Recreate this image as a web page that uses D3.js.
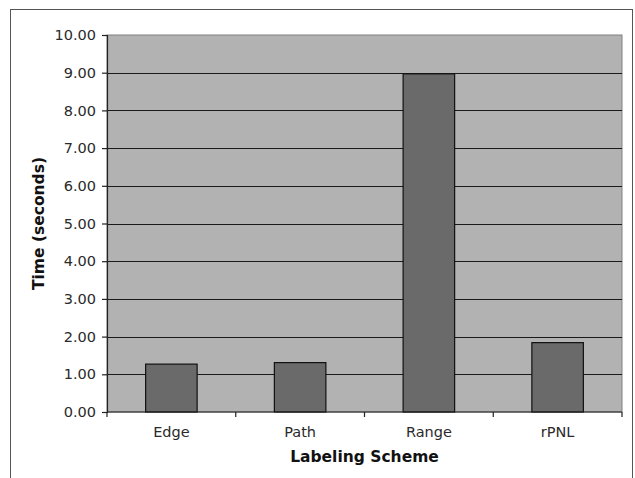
<!DOCTYPE html>
<html>
<head>
<meta charset="utf-8">
<script src="https://cdn.jsdelivr.net/npm/d3@7"></script>
<style>
  html, body { margin: 0; padding: 0; background: #fff; }
  svg { display: block; }
</style>
</head>
<body>
<svg id="chart" width="635" height="478"></svg>
<script>
const categories = ["Edge", "Path", "Range", "rPNL"];
const times = [1.27, 1.31, 8.97, 1.84];
const yTicks = [0, 1, 2, 3, 4, 5, 6, 7, 8, 9, 10];

const svg = d3.select("#chart");
const font = "'DejaVu Sans', Verdana, sans-serif";

// outer frame (bottom runs off the picture)
svg.append("rect")
  .attr("x", 10.5).attr("y", 9.5)
  .attr("width", 622).attr("height", 480)
  .attr("fill", "#fff").attr("stroke", "#555").attr("stroke-width", 1);

const plot = { left: 107, right: 622, top: 35, bottom: 412 };

const x = d3.scaleBand()
  .domain(categories)
  .range([plot.left, plot.right])
  .paddingInner(0.6)
  .paddingOuter(0.3);

const xCat = d3.scaleBand()
  .domain(categories)
  .range([plot.left, plot.right])
  .padding(0);

const y = d3.scaleLinear()
  .domain([0, 10])
  .range([plot.bottom, plot.top]);

// plot background
svg.append("rect")
  .attr("x", plot.left).attr("y", plot.top)
  .attr("width", plot.right - plot.left)
  .attr("height", plot.bottom - plot.top)
  .attr("fill", "#b2b2b2")
  .attr("stroke", "#808080").attr("stroke-width", 1);

// gridlines
svg.append("g")
  .selectAll("line")
  .data(yTicks.filter(d => d > 0 && d < 10))
  .join("line")
  .attr("x1", plot.left).attr("x2", plot.right)
  .attr("y1", d => Math.round(y(d)) + 0.5)
  .attr("y2", d => Math.round(y(d)) + 0.5)
  .attr("stroke", "#1a1a1a").attr("stroke-width", 1.2);

// bars
svg.append("g")
  .selectAll("rect")
  .data(categories.map((c, i) => ({ c, v: times[i] })))
  .join("rect")
  .attr("x", d => x(d.c))
  .attr("y", d => y(d.v))
  .attr("width", x.bandwidth())
  .attr("height", d => y(0) - y(d.v))
  .attr("fill", "#6a6a6a")
  .attr("stroke", "#111").attr("stroke-width", 1.2);

// y axis
const yAxis = d3.axisLeft(y)
  .tickValues(yTicks)
  .tickFormat(d3.format(".2f"))
  .tickSize(5)
  .tickPadding(6);
const gy = svg.append("g")
  .attr("transform", `translate(${plot.left},0)`)
  .call(yAxis);
gy.select(".domain").attr("stroke", "#222").attr("stroke-width", 1.2);
gy.selectAll(".tick line").attr("stroke", "#222").attr("stroke-width", 1.2);
gy.selectAll(".tick text")
  .attr("fill", "#2a2a2a")
  .style("font-family", font)
  .style("font-size", "14.5px");

// x axis: category labels centred, ticks at category boundaries
const gx = svg.append("g")
  .attr("transform", `translate(0,${plot.bottom})`);
gx.append("line")
  .attr("x1", plot.left).attr("x2", plot.right)
  .attr("y1", 0).attr("y2", 0)
  .attr("stroke", "#222").attr("stroke-width", 1.2);
const bounds = categories.map(c => xCat(c)).concat([plot.right]);
gx.selectAll("line.tk")
  .data(bounds)
  .join("line").attr("class", "tk")
  .attr("x1", d => d).attr("x2", d => d)
  .attr("y1", 0).attr("y2", 5)
  .attr("stroke", "#222").attr("stroke-width", 1.2);
gx.selectAll("text")
  .data(categories)
  .join("text")
  .attr("x", d => xCat(d) + xCat.bandwidth() / 2)
  .attr("y", 25)
  .attr("text-anchor", "middle")
  .attr("fill", "#2a2a2a")
  .style("font-family", font)
  .style("font-size", "14.5px")
  .text(d => d);

// axis titles
svg.append("text")
  .attr("x", (plot.left + plot.right) / 2)
  .attr("y", 462)
  .attr("text-anchor", "middle")
  .attr("fill", "#111")
  .style("font-family", font)
  .style("font-weight", "bold")
  .style("font-size", "15.5px")
  .text("Labeling Scheme");

svg.append("text")
  .attr("transform", `translate(44,${(plot.top + plot.bottom) / 2}) rotate(-90)`)
  .attr("text-anchor", "middle")
  .attr("fill", "#111")
  .style("font-family", font)
  .style("font-weight", "bold")
  .style("font-size", "15.5px")
  .text("Time (seconds)");
</script>
</body>
</html>
